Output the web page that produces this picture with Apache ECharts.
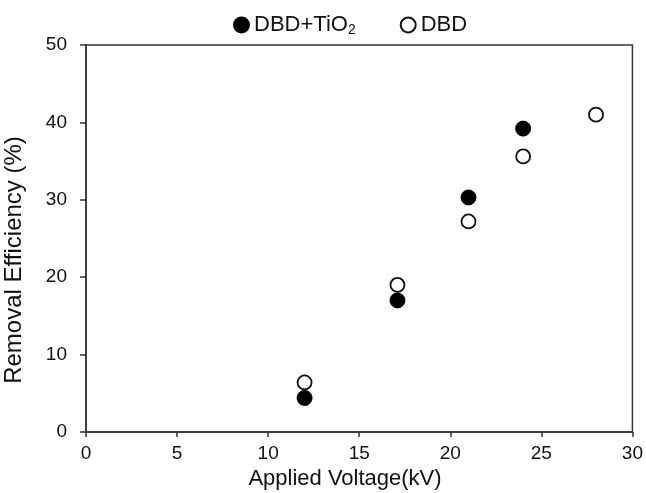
<!DOCTYPE html>
<html>
<head>
<meta charset="utf-8">
<script src="https://cdn.jsdelivr.net/npm/echarts@6/dist/echarts.min.js"></script>
<style>
html,body{margin:0;padding:0;background:#fff;}
#chart{width:646px;height:493px;}
</style>
</head>
<body>
<div id="chart"></div>
<script>
// Data
const seriesNames = ['DBD+TiO2', 'DBD'];
const voltTiO2 = [12, 17.1, 21, 24];
const effTiO2 = [4.4, 17.0, 30.3, 39.2];
const voltDBD = [12, 17.1, 21, 24, 28];
const effDBD = [6.4, 19.0, 27.2, 35.6, 41.0];
const xTicks = [0, 5, 10, 15, 20, 25, 30];
const yTicks = [0, 10, 20, 30, 40, 50];
const xTitle = 'Applied Voltage(kV)';
const yTitle = 'Removal Efficiency (%)';

const font = '"Liberation Sans", Arial, sans-serif';
const chart = echarts.init(document.getElementById('chart'), null, {renderer: 'canvas'});

const zip = (xs, ys) => xs.map((x, i) => [x, ys[i]]);

chart.setOption({
  backgroundColor: '#ffffff',
  animation: false,
  textStyle: {fontFamily: font},
  grid: {left: 86, right: 12, top: 45, bottom: 61, show: true, borderColor: '#333', borderWidth: 1.5, backgroundColor: 'transparent'},
  legend: {
    left: 233, top: 14, padding: 0,
    itemWidth: 15, itemHeight: 15, itemGap: 44,
    icon: 'circle',
    data: seriesNames,
    textStyle: {
      fontFamily: font, fontSize: 22, color: '#111',
      rich: {
        n: {fontFamily: font, fontSize: 22, color: '#111'},
        sub: {fontFamily: font, fontSize: 14, color: '#111', verticalAlign: 'bottom', padding: [11, 0, 0, 0]}
      }
    },
    formatter: function (name) {
      if (name === 'DBD+TiO2') return '{n|DBD+TiO}{sub|2}';
      return '{n|' + name + '}';
    }
  },
  xAxis: {
    type: 'value', min: xTicks[0], max: xTicks[xTicks.length - 1], interval: 5,
    axisLine: {show: true, onZero: false, lineStyle: {color: '#333', width: 1.5}},
    axisTick: {show: true, inside: false, length: 5, lineStyle: {color: '#333', width: 1.5}},
    axisLabel: {color: '#111', fontSize: 19, fontFamily: font, margin: 12},
    splitLine: {show: false}
  },
  yAxis: {
    type: 'value', min: yTicks[0], max: yTicks[yTicks.length - 1], interval: 10,
    axisLine: {show: true, onZero: false, lineStyle: {color: '#333', width: 1.5}},
    axisTick: {show: true, inside: false, length: 6, lineStyle: {color: '#333', width: 1.5}},
    axisLabel: {color: '#111', fontSize: 19, fontFamily: font, margin: 19},
    splitLine: {show: false}
  },
  graphic: [
    {type: 'text', x: 345, y: 479, style: {text: xTitle, font: '22px ' + font, fill: '#111', align: 'center', verticalAlign: 'middle'}},
    {type: 'text', x: 14, y: 260, rotation: Math.PI / 2, style: {text: yTitle, font: '24px ' + font, fill: '#111', align: 'center', verticalAlign: 'middle'}}
  ],
  series: [
    {
      name: seriesNames[0], type: 'scatter', symbol: 'circle', symbolSize: 15,
      itemStyle: {color: '#000', borderColor: '#000', borderWidth: 1, opacity: 1},
      data: zip(voltTiO2, effTiO2), z: 3
    },
    {
      name: seriesNames[1], type: 'scatter', symbol: 'circle', symbolSize: 14,
      itemStyle: {color: '#fff', borderColor: '#111', borderWidth: 1.8, opacity: 1},
      data: zip(voltDBD, effDBD), z: 4
    }
  ]
});
</script>
</body>
</html>
